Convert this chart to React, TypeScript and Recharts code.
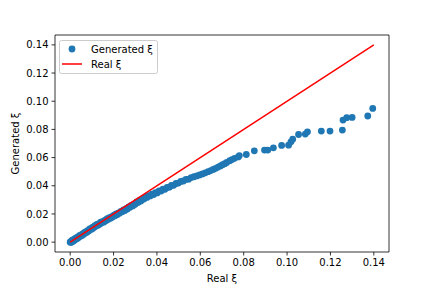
import React from "react";
import {
  ComposedChart,
  Scatter,
  XAxis,
  YAxis,
  ReferenceLine,
} from "recharts";

// real ξ (x) vs generated ξ (y)
const genX = [
  0.0, 0.0002, 0.0004, 0.0005, 0.0007, 0.0009, 0.0011, 0.0013, 0.0015, 0.0018,
  0.0021, 0.0024, 0.0027, 0.003, 0.0033, 0.0036, 0.004, 0.0043, 0.0047, 0.005,
  0.0054, 0.0058, 0.0061, 0.0065, 0.0069, 0.0073, 0.0077, 0.0081, 0.0085, 0.0089,
  0.0093, 0.0097, 0.0101, 0.0105, 0.011, 0.0114, 0.0119, 0.0123, 0.0128, 0.0132,
  0.0137, 0.0141, 0.0146, 0.0151, 0.0156, 0.0161, 0.0166, 0.0171, 0.0176, 0.0181,
  0.0186, 0.0191, 0.0196, 0.0202, 0.0207, 0.0212, 0.0218, 0.0223, 0.0229, 0.0234,
  0.024, 0.0246, 0.0252, 0.0258, 0.0264, 0.027, 0.0276, 0.0282, 0.0288, 0.0294,
  0.03, 0.0307, 0.0313, 0.032, 0.0326, 0.0333, 0.034, 0.0347, 0.0354, 0.0362,
  0.0369, 0.0377, 0.0385, 0.0393, 0.0401, 0.041, 0.0419, 0.0428, 0.0437, 0.0447,
  0.0457, 0.0467, 0.0477, 0.0488, 0.0499, 0.051, 0.0522, 0.0534, 0.0546, 0.0558,
  0.0571, 0.0584, 0.0597, 0.061, 0.0623, 0.0636, 0.0648, 0.066, 0.0671, 0.0682,
  0.0693, 0.0703, 0.0713, 0.0722, 0.0736, 0.0746, 0.0758, 0.0775, 0.078, 0.0812,
  0.0849, 0.0896, 0.0911, 0.0937, 0.0975, 0.1007, 0.1018, 0.1026, 0.1053, 0.1084,
  0.1094, 0.1158, 0.1198, 0.1255, 0.1258, 0.1275, 0.13, 0.1372, 0.1395,
];
const genY = [
  0.0, 0.0002, -0.0001, 0.0007, 0.0001, 0.0012, 0.0006, 0.0015, 0.0008, 0.0019,
  0.0015, 0.0027, 0.0022, 0.0032, 0.0026, 0.0037, 0.0034, 0.0046, 0.0042, 0.0052,
  0.0047, 0.0059, 0.0055, 0.0068, 0.0064, 0.0075, 0.007, 0.0082, 0.0079, 0.0092,
  0.0088, 0.0099, 0.0094, 0.0106, 0.0104, 0.0117, 0.0114, 0.0125, 0.012, 0.0131,
  0.0128, 0.0141, 0.0137, 0.0148, 0.0143, 0.0156, 0.0153, 0.0166, 0.0162, 0.0173,
  0.0169, 0.0181, 0.0178, 0.0192, 0.0188, 0.02, 0.0196, 0.0208, 0.0206, 0.0219,
  0.0216, 0.0228, 0.0224, 0.0237, 0.0235, 0.025, 0.0248, 0.026, 0.0257, 0.027,
  0.0269, 0.0285, 0.0282, 0.0296, 0.0292, 0.0307, 0.0306, 0.0319, 0.0317, 0.033,
  0.0328, 0.034, 0.0338, 0.0351, 0.0349, 0.0364, 0.0363, 0.0376, 0.0375, 0.0388,
  0.039, 0.0402, 0.0403, 0.0416, 0.0419, 0.0431, 0.0434, 0.0445, 0.0447, 0.0458,
  0.0464, 0.047, 0.0477, 0.0484, 0.0492, 0.05, 0.0508, 0.0516, 0.0524, 0.0533,
  0.0541, 0.055, 0.0557, 0.0565, 0.0578, 0.0586, 0.0595, 0.0605, 0.0614, 0.0622,
  0.0648, 0.0653, 0.0653, 0.0669, 0.0686, 0.0688, 0.0712, 0.0731, 0.0764, 0.0767,
  0.0783, 0.0788, 0.0788, 0.0795, 0.0866, 0.0883, 0.0885, 0.0895, 0.0949,
];
const realX = [0, 0.14];
const ticks = [0, 0.02, 0.04, 0.06, 0.08, 0.1, 0.12, 0.14];

const BLUE = "#1f77b4";
const RED = "#ff0000";
const FONT = "'DejaVu Sans', sans-serif";

const generated = genX.map((x, i) => ({ x, y: genY[i] }));
const real = realX.map((x) => ({ x, y: x }));

const Dot = (props: any) => <circle cx={props.cx} cy={props.cy} r={3.4} fill={BLUE} />;

// matplotlib-style legend box, upper left inside the axes
const LegendBox = () => (
  <svg width={99} height={34} style={{ display: "block" }}>
    <rect x={0.5} y={0.5} width={98} height={33} rx={2} fill="rgba(255,255,255,0.8)" stroke="#cccccc" />
    <circle cx={13} cy={9} r={3.4} fill={BLUE} />
    <text x={32} y={9} dominantBaseline="central" fontSize={10} fontFamily={FONT} fill="#000">
      Generated ξ
    </text>
    <line x1={3} y1={24} x2={23} y2={24} stroke={RED} strokeWidth={1.5} />
    <text x={32} y={24} dominantBaseline="central" fontSize={10} fontFamily={FONT} fill="#000">
      Real ξ
    </text>
  </svg>
);

export default function App() {
  const tickStyle = { fontSize: 10, fontFamily: FONT, fill: "#000" };
  return (
    <div style={{ position: "absolute", left: 0, top: 0, width: 432, height: 288, background: "#fff" }}>
      <ComposedChart
        width={432}
        height={288}
        margin={{ top: 35, right: 43, bottom: 0, left: 0 }}
        style={{ fontFamily: FONT }}
      >
        <XAxis
          dataKey="x"
          type="number"
          domain={[-0.007, 0.147]}
          ticks={ticks}
          allowDataOverflow
          tickFormatter={(v: number) => v.toFixed(2)}
          tick={tickStyle}
          tickSize={3.5}
          tickMargin={3}
          height={36}
          axisLine={{ stroke: "#000", strokeWidth: 0.8 }}
          tickLine={{ stroke: "#000", strokeWidth: 0.8 }}
          label={{ value: "Real ξ", position: "insideBottom", offset: 6, fontSize: 10, fontFamily: FONT, fill: "#000" }}
        />
        <YAxis
          dataKey="y"
          type="number"
          domain={[-0.007, 0.147]}
          ticks={ticks}
          allowDataOverflow
          tickFormatter={(v: number) => v.toFixed(2)}
          tick={tickStyle}
          tickSize={3.5}
          tickMargin={3}
          width={55}
          axisLine={{ stroke: "#000", strokeWidth: 0.8 }}
          tickLine={{ stroke: "#000", strokeWidth: 0.8 }}
          label={{
            value: "Generated ξ",
            angle: -90,
            position: "insideLeft",
            offset: 15,
            fontSize: 10,
            fontFamily: FONT,
            fill: "#000",
            style: { textAnchor: "middle" },
          }}
        />
        <ReferenceLine y={0.147} stroke="#000" strokeWidth={0.8} ifOverflow="visible" />
        <ReferenceLine x={0.147} stroke="#000" strokeWidth={0.8} ifOverflow="visible" />
        <Scatter name="Generated ξ" data={generated} fill={BLUE} shape={Dot} isAnimationActive={false} />
        <Scatter
          name="Real ξ"
          data={real}
          line={{ stroke: RED, strokeWidth: 1.5 }}
          shape={() => <g />}
          isAnimationActive={false}
        />
      </ComposedChart>
      <div style={{ position: "absolute", left: 59, top: 40 }}>
        <LegendBox />
      </div>
    </div>
  );
}
